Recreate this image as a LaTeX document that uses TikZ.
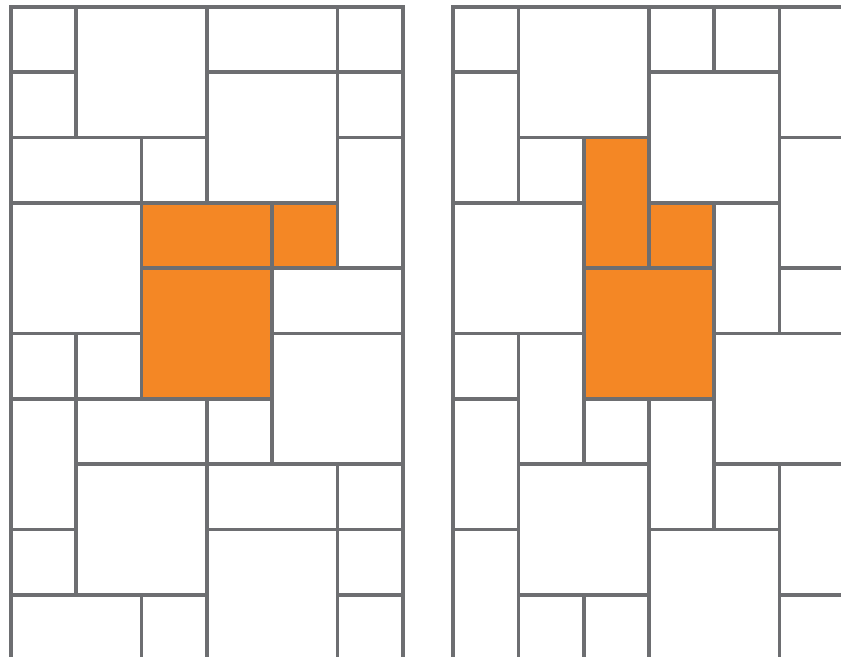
\documentclass[tikz,border=0pt]{standalone}
\definecolor{gridGray}{HTML}{6D6E71}
\definecolor{tileOrange}{HTML}{F48725}

\begin{document}
\begin{tikzpicture}[x=1cm,y=-1cm,
    cell/.style={draw=gridGray,line width=1.6pt,fill=white},
    hot/.style={cell,fill=tileOrange}]
  \useasboundingbox (-0.168,-0.107) rectangle (12.71,9.94);
  \clip (-0.168,-0.107) rectangle (12.71,9.94);
  \fill[white] (-0.168,-0.107) rectangle (12.71,9.94);
  % left layout
  \begin{scope}
    \foreach \a/\b/\c/\d in {0/0/1/1,0/1/1/2,1/0/3/2,3/0/5/1,5/0/6/1,3/1/5/3,5/1/6/2,
        0/2/2/3,2/2/3/3,5/2/6/4,0/3/2/5,4/4/6/5,0/5/1/6,1/5/2/6,4/5/6/7,0/6/1/8,
        1/6/3/7,3/6/4/7,1/7/3/9,3/7/5/8,5/7/6/8,0/8/1/9,3/8/5/10,5/8/6/9,0/9/2/10,
        2/9/3/10,5/9/6/10}
      \draw[cell] (\a,\b) rectangle (\c,\d);
    \foreach \a/\b/\c/\d in {2/3/4/4,4/3/5/4,2/4/4/6}
      \draw[hot] (\a,\b) rectangle (\c,\d);
  \end{scope}
  % right layout
  \begin{scope}[xshift=6.77cm]
    \foreach \a/\b/\c/\d in {0/0/1/1,0/1/1/3,1/0/3/2,3/0/4/1,4/0/5/1,5/0/6/2,3/1/5/3,
        1/2/2/3,5/2/6/4,0/3/2/5,4/3/5/5,5/4/6/5,0/5/1/6,1/5/2/7,4/5/6/7,0/6/1/8,
        2/6/3/7,3/6/4/8,1/7/3/9,4/7/5/8,5/7/6/9,0/8/1/10,3/8/5/10,1/9/2/10,
        2/9/3/10,5/9/6/10}
      \draw[cell] (\a,\b) rectangle (\c,\d);
    \foreach \a/\b/\c/\d in {2/2/3/4,3/3/4/4,2/4/4/6}
      \draw[hot] (\a,\b) rectangle (\c,\d);
  \end{scope}
\end{tikzpicture}
\end{document}
